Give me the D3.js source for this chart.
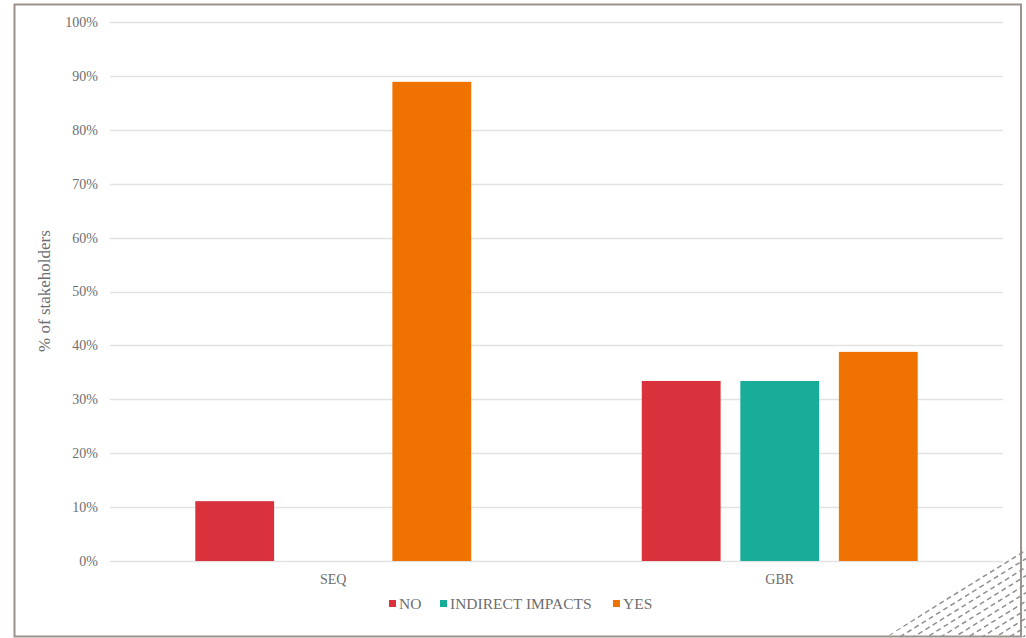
<!DOCTYPE html>
<html><head><meta charset="utf-8">
<script src="https://cdn.jsdelivr.net/npm/d3@7"></script>
<style>body{margin:0;background:#fff;}svg{display:block;}</style>
</head><body>
<svg id="chart" width="1026" height="638"></svg>
<script>
const categories = ["SEQ", "GBR"];
const seriesNames = ["NO", "INDIRECT IMPACTS", "YES"];
const noValues = [0.111, 0.334];
const indirectValues = [0, 0.334];
const yesValues = [0.889, 0.388];
const yTicks = [0, 0.1, 0.2, 0.3, 0.4, 0.5, 0.6, 0.7, 0.8, 0.9, 1.0];
const colors = ["#d9323d", "#18ad98", "#f07200"];

const seriesValues = [noValues, indirectValues, yesValues];
const data = categories.map((c, i) => ({cat: c, vals: seriesNames.map((s, j) => ({s, v: seriesValues[j][i]}))}));

const svg = d3.select("#chart");
const m = {left: 110, right: 1003, top: 22, bottom: 561};
const font = "Liberation Serif, DejaVu Serif, serif";
const textCol = "#6e6e6e";

// frame
svg.append("rect").attr("x", 14.5).attr("y", 4.5).attr("width", 1006.5).attr("height", 632)
  .attr("fill", "#fff").attr("stroke", "#9c918b").attr("stroke-width", 2);

// hatched triangle corner
const defs = svg.append("defs");
defs.append("clipPath").attr("id", "tri").append("path")
  .attr("d", "M886,637 L1026,546 L1026,637 Z");
const hatch = svg.append("g").attr("clip-path", "url(#tri)");
const slope = -0.62;
for (let k = -3; k < 30; k++) {
  const off = k * 8.5;
  hatch.append("line")
    .attr("x1", 860).attr("y1", 637 + slope * (860 - 886) + off)
    .attr("x2", 1030).attr("y2", 637 + slope * (1030 - 886) + off)
    .attr("stroke", "#8f8f8f").attr("stroke-width", 1.5)
    .attr("stroke-dasharray", "5,3.5").attr("stroke-dashoffset", (k * 4) % 8.5);
}

const y = d3.scaleLinear().domain([0, 1]).range([m.bottom, m.top]);
const x0 = d3.scaleBand().domain(categories).range([m.left, m.right]).paddingInner(0.382).paddingOuter(0.191);
const x1 = d3.scaleBand().domain(seriesNames).range([0, x0.bandwidth()]).paddingInner(0.2);

// gridlines
svg.append("g").selectAll("line").data(yTicks).join("line")
  .attr("x1", m.left).attr("x2", m.right)
  .attr("y1", d => Math.round(y(d)) + 0.5).attr("y2", d => Math.round(y(d)) + 0.5)
  .attr("stroke", "#e2e2e2").attr("stroke-width", 1.5);

// y axis
const yAxis = svg.append("g").attr("transform", `translate(${m.left - 10},0)`)
  .call(d3.axisLeft(y).tickValues(yTicks).tickFormat(d3.format(".0%")).tickSize(0).tickPadding(2));
yAxis.select(".domain").remove();
yAxis.selectAll("text").attr("font-family", font).attr("font-size", 14).attr("fill", textCol);

// bars
const groups = svg.append("g").selectAll("g").data(data).join("g")
  .attr("transform", d => `translate(${x0(d.cat)},0)`);
groups.selectAll("rect").data(d => d.vals.filter(v => v.v > 0)).join("rect")
  .attr("x", d => x1(d.s)).attr("width", x1.bandwidth())
  .attr("y", d => y(d.v)).attr("height", d => y(0) - y(d.v))
  .attr("fill", d => colors[seriesNames.indexOf(d.s)]);

// x axis labels
const xAxis = svg.append("g").attr("transform", `translate(0,${m.bottom})`)
  .call(d3.axisBottom(x0).tickSize(0).tickPadding(13));
xAxis.select(".domain").remove();
xAxis.selectAll("text").attr("font-family", font).attr("font-size", 14).attr("fill", textCol);

// y label
svg.append("text").attr("transform", "translate(50,291) rotate(-90)")
  .attr("text-anchor", "middle").attr("font-family", font).attr("font-size", 17).attr("fill", textCol)
  .text("% of stakeholders");

// legend
const legendX = [389, 440, 613];
const leg = svg.append("g").selectAll("g").data(seriesNames).join("g")
  .attr("transform", (d, i) => `translate(${legendX[i]},604)`);
leg.append("rect").attr("x", 0).attr("y", -4).attr("width", 7).attr("height", 7)
  .attr("fill", (d, i) => colors[i]);
leg.append("text").attr("x", 10).attr("y", 5).attr("font-family", font).attr("font-size", 15.5)
  .attr("fill", textCol).text(d => d);
</script>
</body></html>
